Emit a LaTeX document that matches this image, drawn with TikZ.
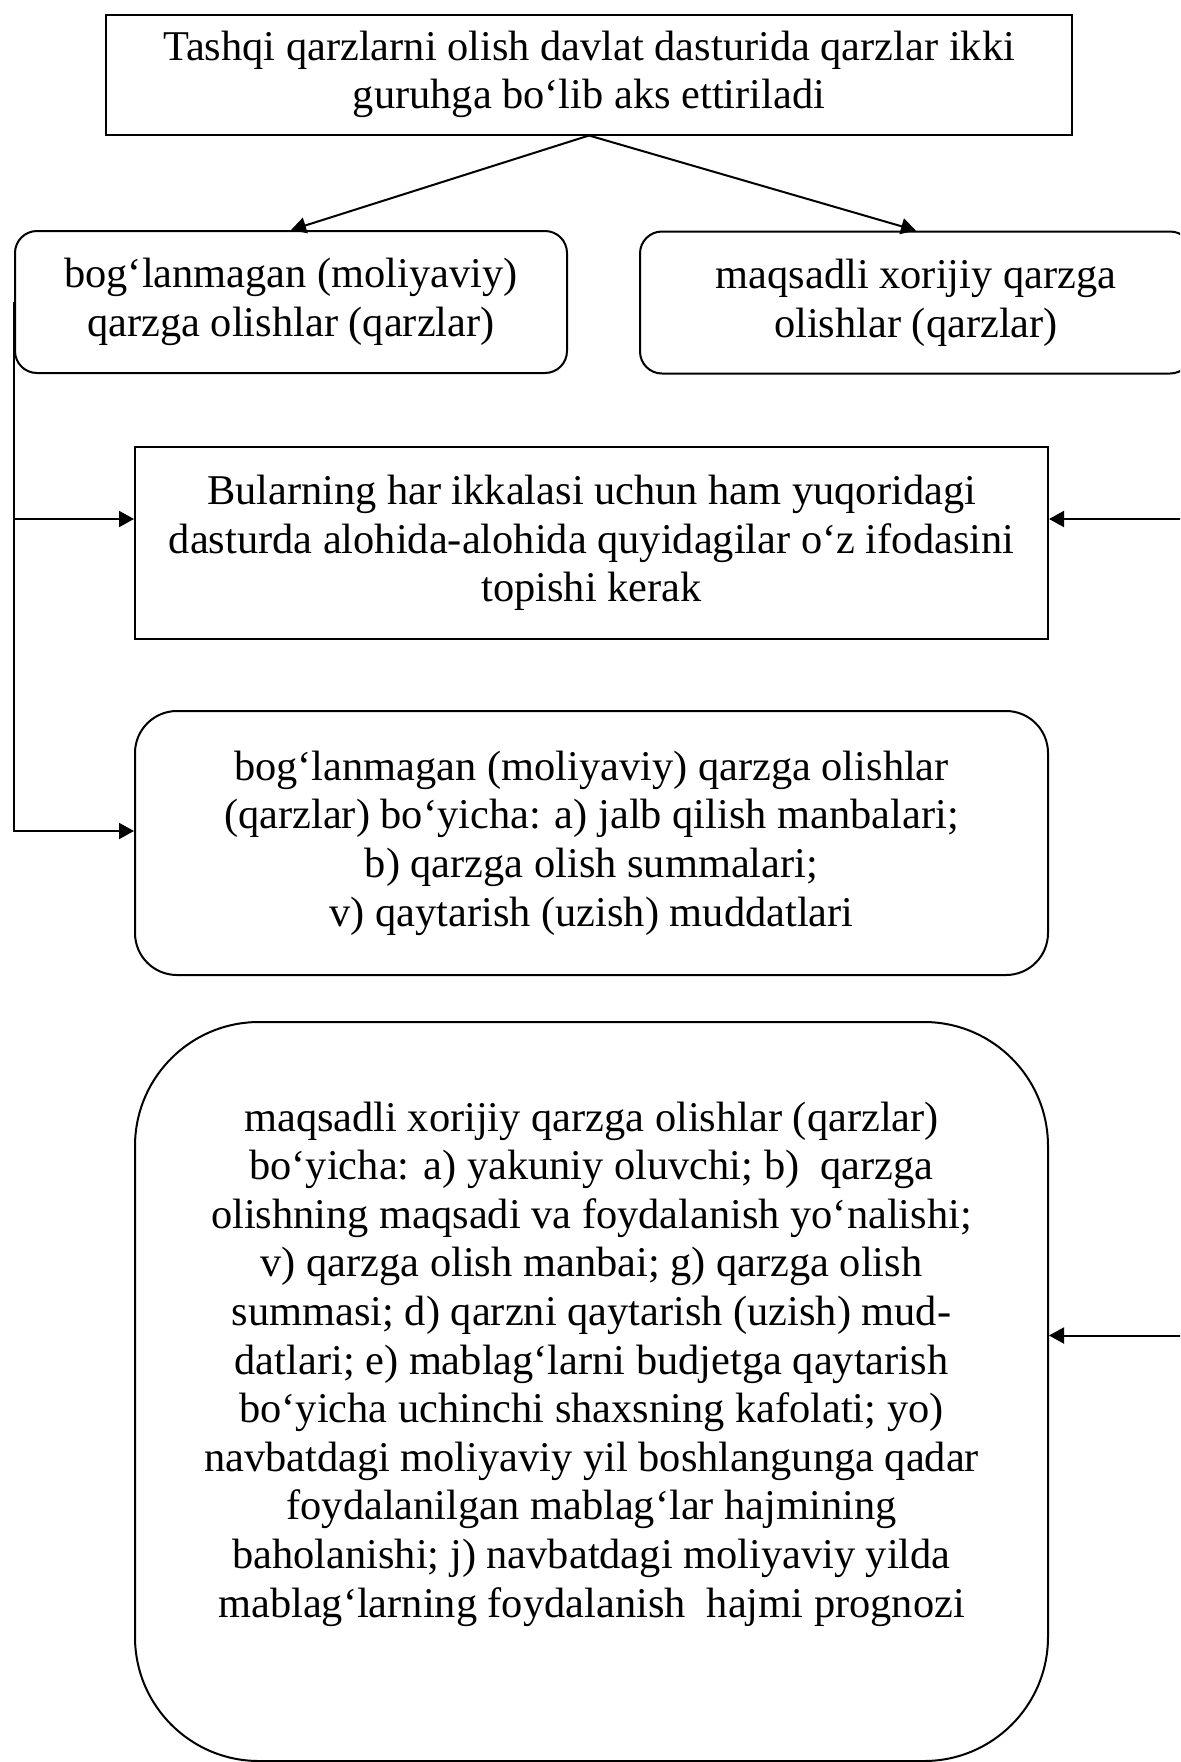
\documentclass[tikz,border=0pt]{standalone}
\usepackage{fontspec}
\setmainfont{Liberation Serif}
\usepackage{tikz}
\usetikzlibrary{shapes, arrows.meta, positioning, calc}
\newcommand{\diagfont}{\fontsize{21.2}{24.3}\selectfont}

\begin{document}
\begin{tikzpicture}[x=0.5pt, y=-0.5pt,
      box/.style={rectangle, draw=black, line width=1pt, align=center, font=\diagfont, inner sep=0pt, anchor=center},
      rbox/.style={box, rounded corners=11pt},
      wide/.style={minimum width=456.5pt},
      txt/.style={align=center, font=\diagfont, inner sep=0pt},
      link/.style={->, line width=1pt, >={Triangle[length=7.5pt, width=8pt]}}
    ]
      \clip (0,0) rectangle (1180,1762);

      \node[box, minimum width=483pt, minimum height=60pt] (T) at (589,74.5)
        {Tashqi qarzlarni olish davlat dasturida qarzlar ikki\\guruhga bo‘lib aks ettiriladi};
      \node[rbox, minimum width=276pt, minimum height=71pt] (L) at (291,302)
        {bog‘lanmagan (moliyaviy)\\qarzga olishlar (qarzlar)};
      \node[rbox, minimum width=276pt, minimum height=71pt] (R) at (916,302.5)
        {maqsadli xorijiy qarzga\\olishlar (qarzlar)};
      \node[box, wide, minimum height=96pt] (M) at (591.5,543)
        {Bularning har ikkalasi uchun ham yuqoridagi\\dasturda alohida-alohida quyidagilar o‘z ifodasini\\topishi kerak};
      \node[box, wide, minimum height=132pt, rounded corners=21pt] (B1) at (591.5,843)
        {bog‘lanmagan (moliyaviy) qarzga olishlar\\(qarzlar) bo‘yicha: a) jalb qilish manbalari;\\b) qarzga olish summalari;\\v) qaytarish (uzish) muddatlari};
      \node[box, wide, minimum height=369.5pt, rounded corners=62pt] (B2) at (591.5,1391.5) {};
      \node[txt] (B2t) at (591.5,1364)
        {maqsadli xorijiy qarzga olishlar (qarzlar)\\
         bo‘yicha: a) yakuniy oluvchi; b)\ \ qarzga\\
         olishning maqsadi va foydalanish yo‘nalishi;\\
         v) qarzga olish manbai; g) qarzga olish\\
         summasi; d) qarzni qaytarish (uzish) mud-\\
         datlari; e) mablag‘larni budjetga qaytarish\\
         bo‘yicha uchinchi shaxsning kafolati; yo)\\
         navbatdagi moliyaviy yil boshlangunga qadar\\
         foydalanilgan mablag‘lar hajmining\\
         baholanishi; j) navbatdagi moliyaviy yilda\\
         mablag‘larning foydalanish\ \ hajmi prognozi};

      % ikki guruh
      \draw[link] (T.south) -- (L.north);
      \draw[link] (T.south) -- (R.north);

      % chap va o'ng tarmoqlar
      \draw[link] (L.west) |- ([yshift=12pt]M.west);
      \draw[link] (L.west) |- ([yshift=6pt]B1.west);
      \draw[link] (R.east) |- ([yshift=12pt]M.east);
      \draw[link] (R.east) |- ([yshift=28pt]B2.east);
    \end{tikzpicture}
\end{document}
